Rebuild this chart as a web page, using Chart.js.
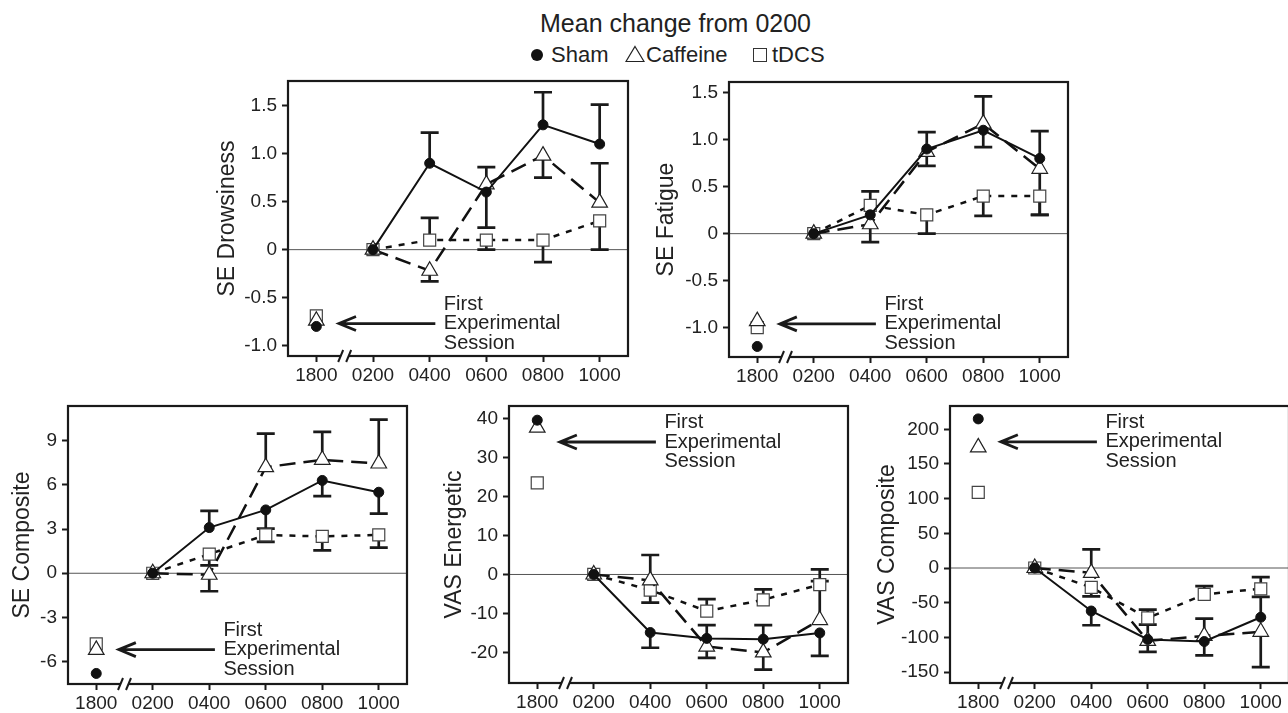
<!DOCTYPE html>
<html>
<head>
<meta charset="utf-8">
<script src="https://cdn.jsdelivr.net/npm/chart.js@4.4.1/dist/chart.umd.min.js"></script>
<style>
  html, body { margin: 0; padding: 0; background: #fff; }
  body { width: 1288px; height: 713px; overflow: hidden; position: relative;
         font-family: "Liberation Sans", Arial, sans-serif; color: #222; }
  .abs { position: absolute; }
  .txt { position: absolute; font-size: 22px; line-height: 22px; top: 44px; white-space: nowrap; }
</style>
</head>
<body>
<div class="abs" style="left:540px; top:11px; font-size:25px; line-height:25px; white-space:nowrap;">Mean change from 0200</div>
<div class="abs" style="left:531px; top:49px; width:12px; height:12px; border-radius:50%; background:#111;"></div>
<div class="txt" style="left:551px;">Sham</div>
<svg class="abs" style="left:625px; top:45px;" width="20" height="18"><polygon points="10,1.5 19,16.5 1,16.5" fill="none" stroke="#222" stroke-width="1.2"/></svg>
<div class="txt" style="left:646px;">Caffeine</div>
<div class="abs" style="left:753px; top:48px; width:12px; height:12px; border:1.3px solid #333;"></div>
<div class="txt" style="left:772px;">tDCS</div>

<script>
// time points on the x axis (1800 = first experimental session)
const timeLabels = ['1800', '0200', '0400', '0600', '0800', '1000'];

// SE Drowsiness
const drowsSham = [-0.8, 0, 0.9, 0.6, 1.3, 1.1];
const drowsShamErr = [null, null, 1.22, 0.23, 1.64, 1.51];
const drowsCaff = [-0.74, 0, -0.22, 0.68, 0.98, 0.49];
const drowsCaffErr = [null, null, -0.33, 0.86, 0.75, 0.9];
const drowsTdcs = [-0.69, 0, 0.1, 0.1, 0.1, 0.3];
const drowsTdcsErr = [null, null, 0.33, 0, -0.13, 0];
const drowsTicks = [-1, -0.5, 0, 0.5, 1, 1.5];

// SE Fatigue
const fatSham = [-1.2, 0, 0.2, 0.9, 1.1, 0.8];
const fatShamErr = [null, null, 0.45, 1.08, 0.92, 1.09];
const fatCaff = [-0.93, 0, 0.1, 0.87, 1.17, 0.69];
const fatCaffErr = [null, null, -0.09, 0.72, 1.46, 0.2];
const fatTdcs = [-1.0, 0, 0.3, 0.2, 0.4, 0.4];
const fatTdcsErr = [null, null, null, 0, 0.19, 0.2];
const fatTicks = [-1, -0.5, 0, 0.5, 1, 1.5];

// SE Composite
const compSham = [-6.8, 0, 3.1, 4.3, 6.3, 5.5];
const compShamErr = [null, null, 4.23, 3.03, 5.23, 4.05];
const compCaff = [-5.2, 0, -0.1, 7.2, 7.7, 7.45];
const compCaffErr = [null, null, -1.22, 9.48, 9.59, 10.43];
const compTdcs = [-4.8, 0, 1.3, 2.6, 2.5, 2.6];
const compTdcsErr = [null, null, 0.54, 2.13, 1.56, 1.74];
const compTicks = [-6, -3, 0, 3, 6, 9];

// VAS Energetic
const energSham = [39.6, 0, -14.9, -16.4, -16.6, -15];
const energShamErr = [null, null, -18.8, -13, -13, -20.9];
const energCaff = [37.7, 0, -1.5, -18.5, -20, -11.7];
const energCaffErr = [null, null, 5, -21.4, -24.4, 1.3];
const energTdcs = [23.5, 0, -4, -9.4, -6.5, -2.6];
const energTdcsErr = [null, null, -7.2, -6.3, -3.8, -1.7];
const energTicks = [-20, -10, 0, 10, 20, 30, 40];

// VAS Composite
const vasSham = [215, 0, -62, -103, -106, -71];
const vasShamErr = [null, null, -82.5, -121, -73, -41.7];
const vasCaff = [174, 0, -7, -105, -98, -92];
const vasCaffErr = [null, null, 27, -81.5, -126, -143];
const vasTdcs = [109, 0, -28, -72, -38, -30];
const vasTdcsErr = [null, null, -41, -60, -26, -13];
const vasTicks = [-150, -100, -50, 0, 50, 100, 150, 200];

const INK = '#1a1a1a';
const FONT = '"Liberation Sans", Arial, sans-serif';
const fmt1 = v => v === 0 ? '0' : v.toFixed(1);
const fmt0 = v => String(v);

const panels = [
  { l: 288, t: 81, r: 628, b: 356, w: 72, title: 'SE Drowsiness', min: -1.108, max: 1.757,
    ticks: drowsTicks, fmt: fmt1, arrowY: -0.77,
    s: [drowsSham, drowsShamErr, drowsCaff, drowsCaffErr, drowsTdcs, drowsTdcsErr] },
  { l: 729, t: 82, r: 1068, b: 357, w: 74, title: 'SE Fatigue', min: -1.312, max: 1.613,
    ticks: fatTicks, fmt: fmt1, arrowY: -0.96,
    s: [fatSham, fatShamErr, fatCaff, fatCaffErr, fatTdcs, fatTdcsErr] },
  { l: 68, t: 406, r: 407, b: 684, w: 57, title: 'SE Composite', min: -7.516, max: 11.353,
    ticks: compTicks, fmt: fmt0, arrowY: -5.18,
    s: [compSham, compShamErr, compCaff, compCaffErr, compTdcs, compTdcsErr] },
  { l: 509, t: 406, r: 848, b: 683, w: 66, title: 'VAS Energetic', min: -27.85, max: 43.24,
    ticks: energTicks, fmt: fmt0, arrowY: 34,
    s: [energSham, energShamErr, energCaff, energCaffErr, energTdcs, energTdcsErr] },
  { l: 950, t: 406, r: 1289, b: 683, w: 74, title: 'VAS Composite', min: -165.8, max: 233.6,
    ticks: vasTicks, fmt: fmt0, arrowY: 182,
    s: [vasSham, vasShamErr, vasCaff, vasCaffErr, vasTdcs, vasTdcsErr] }
];

// hide the segment across the axis break
const hideFirst = { borderColor: c => c.p0DataIndex === 0 ? 'rgba(0,0,0,0)' : undefined };

function series(label, data, errEnd, style) {
  return Object.assign({ label, data, errEnd, fill: false, tension: 0, segment: hideFirst }, style);
}

const shamStyle = { borderColor: '#111', borderWidth: 2, pointStyle: 'circle', pointRadius: 5,
  pointBackgroundColor: '#111', pointBorderColor: '#111', pointBorderWidth: 1 };
const caffStyle = { borderColor: '#111', borderWidth: 2.5, borderDash: [16, 8], pointStyle: 'triangle',
  pointRadius: 9, pointBackgroundColor: '#fff', pointBorderColor: '#222', pointBorderWidth: 1.2 };
const tdcsStyle = { borderColor: '#111', borderWidth: 2.5, borderDash: [6, 7], pointStyle: 'rect',
  pointRadius: 8.5, pointBackgroundColor: '#fff', pointBorderColor: '#444', pointBorderWidth: 1.2 };

const panelDecor = {
  id: 'panelDecor',
  beforeDatasetsDraw(chart) {
    const { ctx, chartArea: a, scales: { x, y } } = chart;
    ctx.save();
    const y0 = y.getPixelForValue(0);
    ctx.strokeStyle = '#555';
    ctx.lineWidth = 1;
    ctx.beginPath(); ctx.moveTo(a.left, y0); ctx.lineTo(a.right, y0); ctx.stroke();
    // one-sided error bars
    ctx.strokeStyle = INK;
    ctx.lineWidth = 2.7;
    chart.data.datasets.forEach(ds => {
      (ds.errEnd || []).forEach((e, i) => {
        if (e === null) return;
        const px = x.getPixelForValue(i);
        const p0 = y.getPixelForValue(ds.data[i]);
        const p1 = y.getPixelForValue(e);
        ctx.beginPath();
        ctx.moveTo(px, p0); ctx.lineTo(px, p1);
        ctx.moveTo(px - 9, p1); ctx.lineTo(px + 9, p1);
        ctx.stroke();
      });
    });
    ctx.restore();
  },
  afterDatasetsDraw(chart, args, opts) {
    const { ctx, scales: { x, y } } = chart;
    const ay = y.getPixelForValue(opts.arrowY);
    const x0 = x.getPixelForValue(2.1), x1 = x.getPixelForValue(0.4);
    ctx.save();
    ctx.strokeStyle = INK;
    ctx.lineWidth = 2.8;
    ctx.beginPath();
    ctx.moveTo(x0, ay); ctx.lineTo(x1, ay);
    ctx.moveTo(x1 + 17, ay - 7); ctx.lineTo(x1, ay); ctx.lineTo(x1 + 17, ay + 7);
    ctx.stroke();
    ctx.fillStyle = '#222';
    ctx.font = '20px ' + FONT;
    ctx.textBaseline = 'middle';
    ctx.textAlign = 'left';
    const tx = x.getPixelForValue(2.25);
    ['First', 'Experimental', 'Session'].forEach((t, k) => ctx.fillText(t, tx, ay + (k - 1) * 19.5));
    ctx.restore();
  },
  afterDraw(chart) {
    const { ctx, chartArea: a, scales: { x } } = chart;
    ctx.save();
    ctx.strokeStyle = INK;
    ctx.lineWidth = 2.2;
    ctx.strokeRect(a.left, a.top, a.right - a.left, a.bottom - a.top);
    // axis break
    const bx = x.getPixelForValue(0.5);
    ctx.fillStyle = '#fff';
    ctx.fillRect(bx - 4, a.bottom - 2, 8, 4);
    ctx.lineWidth = 2;
    [-4, 4].forEach(dx => {
      ctx.beginPath();
      ctx.moveTo(bx + dx - 2.5, a.bottom + 6);
      ctx.lineTo(bx + dx + 2.5, a.bottom - 6);
      ctx.stroke();
    });
    ctx.restore();
  }
};

const PT = 6, PR = 6, HX = 40;

panels.forEach((p, n) => {
  const holder = document.createElement('div');
  holder.className = 'abs';
  const width = (p.r - p.l) + p.w + PR;
  const height = (p.b - p.t) + PT + HX;
  holder.style.left = (p.l - p.w) + 'px';
  holder.style.top = (p.t - PT) + 'px';
  const canvas = document.createElement('canvas');
  canvas.width = width;
  canvas.height = height;
  canvas.id = 'chart' + n;
  holder.appendChild(canvas);
  document.body.appendChild(holder);

  const [sh, shE, ca, caE, td, tdE] = p.s;
  new Chart(canvas.getContext('2d'), {
    type: 'line',
    data: {
      labels: timeLabels,
      datasets: [
        series('Sham', sh, shE, shamStyle),
        series('Caffeine', ca, caE, caffStyle),
        series('tDCS', td, tdE, tdcsStyle)
      ]
    },
    options: {
      responsive: false,
      animation: false,
      layout: { autoPadding: false, padding: { top: PT, right: PR, left: 0, bottom: 0 } },
      scales: {
        x: {
          type: 'category',
          offset: true,
          border: { display: false },
          grid: { drawOnChartArea: false, drawTicks: true, tickLength: 6, tickColor: INK, tickWidth: 2 },
          ticks: { font: { family: FONT, size: 19 }, color: '#222', padding: 2, autoSkip: false, maxRotation: 0 },
          afterFit: s => { s.height = HX; s.paddingLeft = 0; s.paddingRight = 0; }
        },
        y: {
          type: 'linear',
          min: p.min,
          max: p.max,
          border: { display: false },
          grid: { drawOnChartArea: false, drawTicks: true, tickLength: 6, tickColor: INK, tickWidth: 2 },
          ticks: { font: { family: FONT, size: 19 }, color: '#222', padding: 5, callback: v => p.fmt(v) },
          afterBuildTicks: s => { s.ticks = p.ticks.map(v => ({ value: v })); },
          title: { display: true, text: p.title, color: '#222', padding: 0,
                   font: { family: FONT, size: 23, lineHeight: 1 } },
          afterFit: s => { s.width = p.w; s.paddingTop = 0; s.paddingBottom = 0; }
        }
      },
      plugins: {
        legend: { display: false },
        tooltip: { enabled: false },
        panelDecor: { arrowY: p.arrowY }
      }
    },
    plugins: [panelDecor]
  });
});
</script>
</body>
</html>
